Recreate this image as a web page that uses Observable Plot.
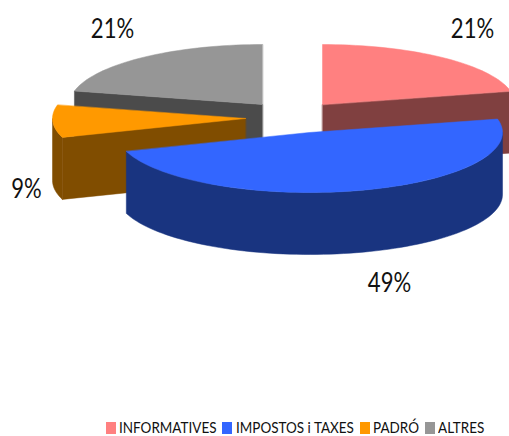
<!DOCTYPE html>
<html>
<head>
<meta charset="utf-8">
<script src="https://cdn.jsdelivr.net/npm/d3@7"></script>
<script src="https://cdn.jsdelivr.net/npm/@observablehq/plot@0.6"></script>
<style>
html,body{margin:0;padding:0;background:#fff;overflow:hidden}
#legend{height:26px;position:relative;font:14.5px Lato,sans-serif;color:#111}
#legend span{position:absolute;top:10px;white-space:nowrap;line-height:16px;transform:scaleX(.93);transform-origin:0 50%}
#legend i{position:absolute;top:12px;width:10px;height:12px}
</style>
</head>
<body>
<div id="chart"></div>
<div id="legend"></div>
<script>
// Data (rounded they give the printed labels)
const categories = ["INFORMATIVES", "IMPOSTOS i TAXES", "PADRÓ", "ALTRES"];
const shares = [21.4, 48.5, 8.7, 21.4];
// Styles
const topColors = ["#FF8080", "#3366FF", "#FF9900", "#969696"];
const wallColors = ["#804040", "#193480", "#804D00", "#4B4B4B"];
// Layout of the exploded slices (page units)
const apexX = [322, 309, 245, 262];
const apexY = [104, 132, 118, 104];
const labelX = [472, 389, 26, 112];
const labelY = [29, 283, 189, 29];
const legendSwatchX = [106, 222, 360, 425];
const legendTextX = [119, 236, 373, 438];
const rx = 193, ry = 60, depth = 62;
const drawOrder = [3, 0, 2, 1];

const total = d3.sum(shares);
const cum = d3.cumsum(shares);
const rim = (i, deg) => {
  const t = deg * Math.PI / 180;
  return [apexX[i] + rx * Math.sin(t), apexY[i] - ry * Math.cos(t)];
};
const polys = [];
let pid = 0;
const addPoly = (pts, color) => {
  const id = pid++;
  pts.forEach(([x, y]) => polys.push({x, y, id, color}));
};
const arc = (i, a, b) => {
  const n = Math.max(1, Math.ceil(Math.abs(b - a) / 2));
  return d3.range(n + 1).map(k => rim(i, a + (b - a) * k / n));
};
for (const i of drawOrder) {
  const a0 = (i ? cum[i - 1] : 0) / total * 360;
  const a1 = cum[i] / total * 360;
  const apex = [apexX[i], apexY[i]];
  const drop = p => [p[0], p[1] + depth];
  const cutFace = ang => {
    const p = rim(i, ang);
    addPoly([apex, p, drop(p), drop(apex)], wallColors[i]);
  };
  if (a0 > 180) cutFace(a0);  // edge on the left half faces the viewer
  if (a1 < 180) cutFace(a1);  // edge on the right half faces the viewer
  // outer wall: front half of the ellipse only
  const s = Math.max(a0, 90), e = Math.min(a1, 270);
  if (e > s) {
    const top = arc(i, s, e);
    addPoly([...top, ...top.slice().reverse().map(drop)], wallColors[i]);
  }
  // top face
  addPoly([apex, ...arc(i, a0, a1)], topColors[i]);
}

const labels = shares.map((v, i) => ({text: Math.round(v) + "%", x: labelX[i], y: labelY[i]}));

const plot = Plot.plot({
  width: 509,
  height: 410,
  margin: 0,
  x: {domain: [0, 509], range: [0, 509], axis: null},
  y: {domain: [0, 410], range: [0, 410], axis: null},
  color: {type: "identity"},
  marks: [
    Plot.line(polys, {x: "x", y: "y", z: "id", fill: "color", stroke: "color", strokeWidth: 0.5, curve: "linear-closed"}),
    Plot.text(labels, {x: "x", y: "y", text: "text", fontSize: 26, fontFamily: "Lato", fill: "#111"})
  ]
});
document.getElementById("chart").appendChild(plot);
// Calibri-like proportions: same height, narrower set width
plot.querySelectorAll("text").forEach(t => {
  const w = t.getComputedTextLength();
  t.setAttribute("textLength", (w * 0.85).toFixed(1));
  t.setAttribute("lengthAdjust", "spacingAndGlyphs");
});

const legend = document.getElementById("legend");
categories.forEach((c, i) => {
  const sw = document.createElement("i");
  sw.style.left = legendSwatchX[i] + "px";
  sw.style.background = topColors[i];
  legend.appendChild(sw);
  const t = document.createElement("span");
  t.style.left = legendTextX[i] + "px";
  t.textContent = c;
  legend.appendChild(t);
});
</script>
</body>
</html>
